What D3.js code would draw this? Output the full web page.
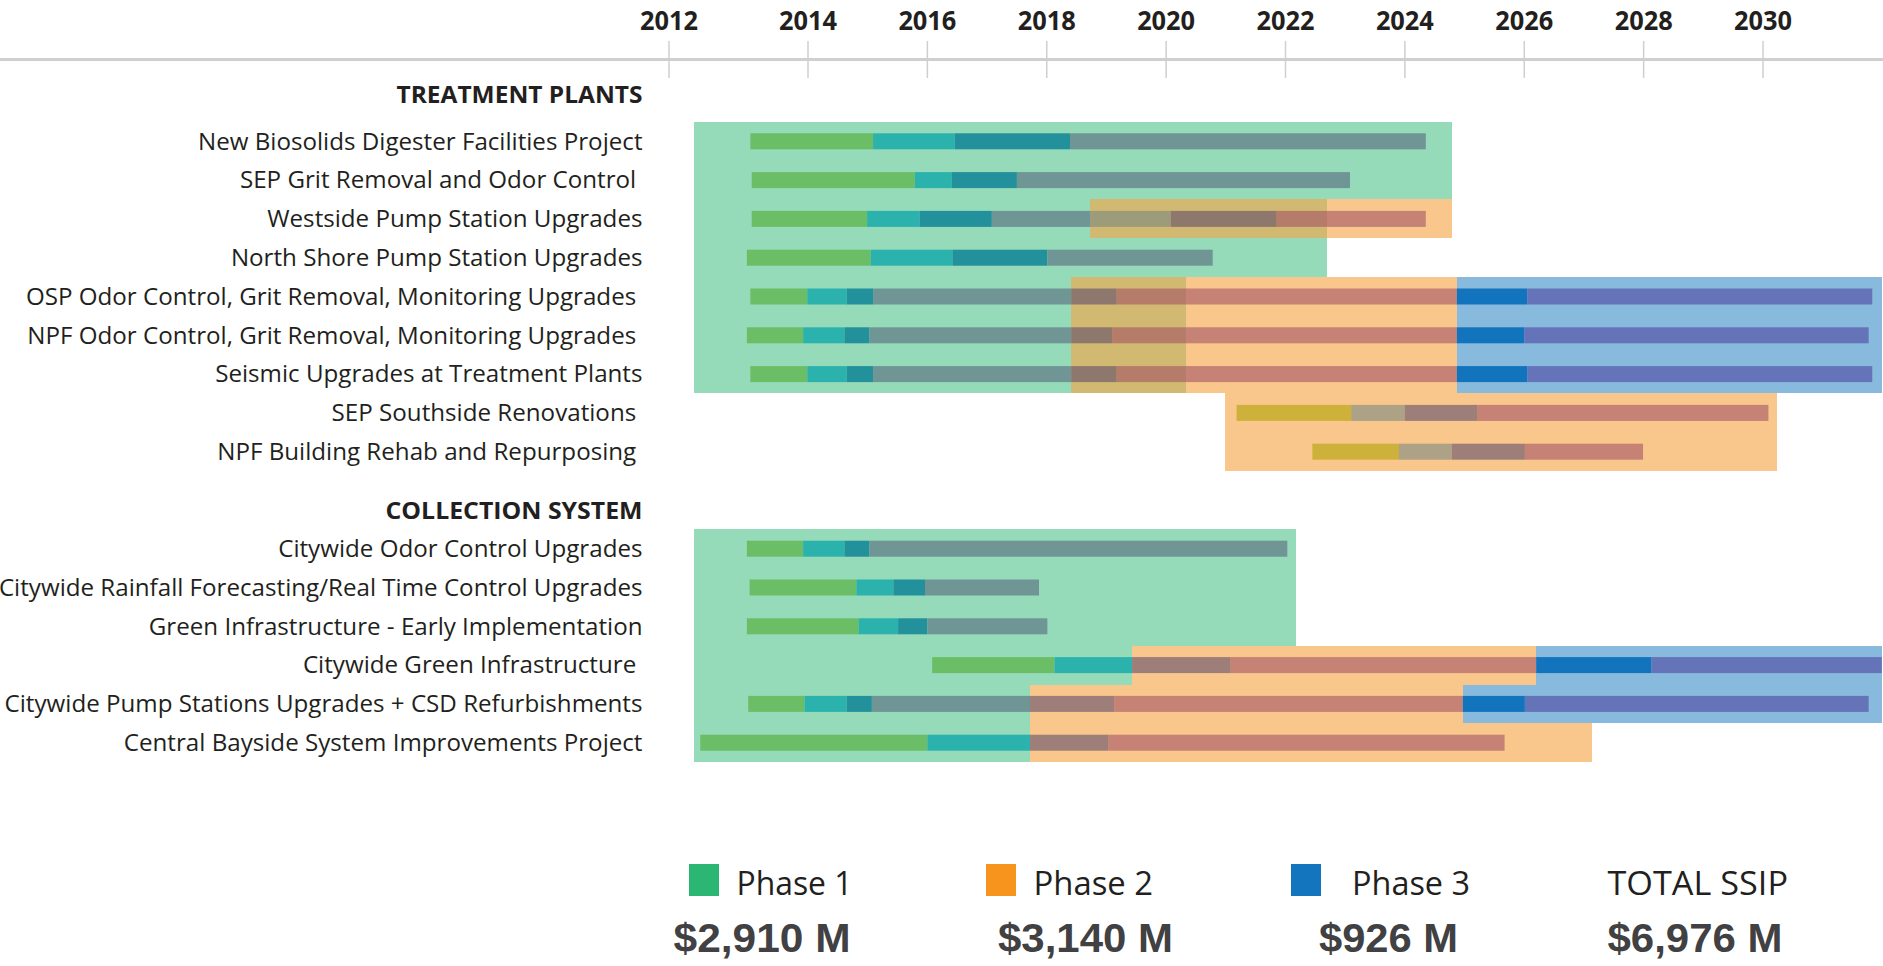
<!DOCTYPE html>
<html>
<head>
<meta charset="utf-8">
<script src="https://cdn.jsdelivr.net/npm/d3@7"></script>
<style>
  body { margin: 0; background: #fff; }
  svg { display: block; }
  text { white-space: pre; }
</style>
</head>
<body>
<svg></svg>
<script>
const size = {w: 1883, h: 966};
const svg = d3.select('svg')
    .attr('width', size.w)
    .attr('height', size.h);

// ---- data ----
const tickYears = [2012, 2014, 2016, 2018, 2020, 2022, 2024, 2026, 2028, 2030];

const treatmentProjects = [
    "New Biosolids Digester Facilities Project",
    "SEP Grit Removal and Odor Control ",
    "Westside Pump Station Upgrades",
    "North Shore Pump Station Upgrades",
    "OSP Odor Control, Grit Removal, Monitoring Upgrades ",
    "NPF Odor Control, Grit Removal, Monitoring Upgrades ",
    "Seismic Upgrades at Treatment Plants",
    "SEP Southside Renovations ",
    "NPF Building Rehab and Repurposing "
];
const collectionProjects = [
    "Citywide Odor Control Upgrades",
    "Citywide Rainfall Forecasting/Real Time Control Upgrades",
    "Green Infrastructure - Early Implementation",
    "Citywide Green Infrastructure ",
    "Citywide Pump Stations Upgrades + CSD Refurbishments",
    "Central Bayside System Improvements Project"
];

// [row, phase, first stage, stage breakpoints (year)]
const treatmentBars = [
    [0, 1, 0, [2013.17, 2015.09, 2016.46, 2018.39, 2024.35]],
    [1, 1, 0, [2013.19, 2015.79, 2016.41, 2017.50, 2023.08]],
    [2, 1, 0, [2013.19, 2014.99, 2015.87, 2017.08, 2018.73]],
    [2, 2, 1, [2018.73, 2020.08, 2021.85, 2024.35]],
    [3, 1, 0, [2013.12, 2015.05, 2016.42, 2018.01, 2020.78]],
    [4, 1, 0, [2013.17, 2013.99, 2014.65, 2015.09, 2018.41]],
    [4, 2, 2, [2018.41, 2019.17, 2024.87]],
    [4, 3, 0, [2024.87, 2026.05, 2031.83]],
    [5, 1, 0, [2013.12, 2013.93, 2014.61, 2015.03, 2018.41]],
    [5, 2, 2, [2018.41, 2019.10, 2024.87]],
    [5, 3, 0, [2024.87, 2026.00, 2031.77]],
    [6, 1, 0, [2013.17, 2013.99, 2014.65, 2015.09, 2018.41]],
    [6, 2, 2, [2018.41, 2019.17, 2024.87]],
    [6, 3, 0, [2024.87, 2026.05, 2031.83]],
    [7, 2, 0, [2021.18, 2023.10, 2024.00, 2025.21, 2030.09]],
    [8, 2, 0, [2022.45, 2023.90, 2024.79, 2026.01, 2027.99]]
];
const collectionBars = [
    [0, 1, 0, [2013.12, 2013.93, 2014.61, 2015.03, 2022.03]],
    [1, 1, 0, [2013.16, 2014.81, 2015.43, 2015.96, 2017.87]],
    [2, 1, 0, [2013.12, 2014.85, 2015.51, 2016.00, 2018.01]],
    [3, 1, 0, [2016.08, 2018.13, 2019.43]],
    [3, 2, 2, [2019.43, 2021.08, 2026.20]],
    [3, 3, 0, [2026.20, 2028.13, 2031.99]],
    [4, 1, 0, [2013.14, 2013.95, 2014.65, 2015.07, 2017.72]],
    [4, 2, 2, [2017.72, 2019.13, 2024.97]],
    [4, 3, 0, [2024.97, 2026.01, 2031.77]],
    [5, 1, 0, [2012.45, 2016.00, 2017.72]],
    [5, 2, 2, [2017.72, 2019.03, 2025.67]]
];

// phase windows: [first row, last row, phase, start, end]
const treatmentBoxes = [
    [0, 1, 1, 2012.36, 2024.79],
    [2, 3, 1, 2012.36, 2022.69],
    [4, 6, 1, 2012.36, 2020.34],
    [2, 2, 2, 2018.73, 2024.79],
    [4, 6, 2, 2018.41, 2024.87],
    [7, 8, 2, 2020.98, 2030.24],
    [4, 6, 3, 2024.87, 2032]
];
const collectionBoxes = [
    [0, 2, 1, 2012.36, 2022.17],
    [3, 3, 1, 2012.36, 2019.43],
    [4, 5, 1, 2012.36, 2017.72],
    [3, 3, 2, 2019.43, 2026.20],
    [4, 4, 2, 2017.72, 2024.97],
    [5, 5, 2, 2017.72, 2027.14],
    [3, 3, 3, 2026.20, 2032],
    [4, 4, 3, 2024.97, 2032]
];

const phaseNames = ["Phase 1", "Phase 2", "Phase 3"];
const phaseCosts = [2910, 3140, 926];   // $ M
const totalLabel = "TOTAL SSIP";
const totalCost = 6976;

// ---- styles ----
const phaseColor = {1: "#2BB673", 2: "#F7941E", 3: "#1275BE"};
const boxFill = {1: "#2BB673", 2: "#F5A546", 3: "#1275BE"};
const boxOpacity = {1: 0.5, 2: 0.62, 3: 0.5};
const stageColors = {
    1: ["#6BBE66", "#2BB2AD", "#23919B", "#6F9595"],
    2: ["#CDB13B", "#ADA185", "#9E7E78", "#C48275"],
    3: ["#1274BD", "#6574B8"]
};
const phase2Alpha = 0.6;
const labelFont = "'Open Sans', 'DejaVu Sans', sans-serif";

// phase 2 bars are see-through; find the base colour that shows the wanted colour on the orange window
function overWhite(c, a) {
    c = d3.rgb(c);
    return d3.rgb(a * c.r + (1 - a) * 255, a * c.g + (1 - a) * 255, a * c.b + (1 - a) * 255);
}
function baseFor(shown, bg, a) {
    let s = d3.rgb(shown), b = d3.rgb(bg);
    return d3.rgb((s.r - (1 - a) * b.r) / a, (s.g - (1 - a) * b.g) / a, (s.b - (1 - a) * b.b) / a).formatHex();
}
const orangeShown = overWhite(boxFill[2], boxOpacity[2]);
const stageFill = function (phase, stage) {
    let c = stageColors[phase][stage];
    return phase === 2 ? baseFor(c, orangeShown, phase2Alpha) : c;
};

// ---- scales ----
const x = d3.scaleLinear()
    .domain([2012, 2014, 2032])
    .range([669, 808, 1882.4]);

const y = d3.scaleLinear()
    .domain([0, 1])
    .range([141.3, 180.1]);

const groups = [
    {title: "TREATMENT PLANTS", titleSlot: -1.2, offset: 0, titleW: 246,
        projects: treatmentProjects, bars: treatmentBars, boxes: treatmentBoxes},
    {title: "COLLECTION SYSTEM", titleSlot: 9.5, offset: 10.5, titleW: 257,
        projects: collectionProjects, bars: collectionBars, boxes: collectionBoxes}
];

function squeeze(sel, target) {
    sel.each(function () {
        let w = typeof target === 'function' ? target(this.getComputedTextLength()) : target;
        d3.select(this).attr('textLength', w).attr('lengthAdjust', 'spacingAndGlyphs');
    });
}

// ---- axis ----
let axisG = svg.append('g').classed('axis', true);
axisG.append('line')
    .attr('x1', 0).attr('x2', size.w)
    .attr('y1', 59.5).attr('y2', 59.5)
    .attr('stroke', '#cfcfcf')
    .attr('stroke-width', 3);
axisG.selectAll('line.tick')
    .data(tickYears)
    .enter()
    .append('line')
    .classed('tick', true)
    .attr('x1', d => x(d)).attr('x2', d => x(d))
    .attr('y1', 41).attr('y2', 78)
    .attr('stroke', '#cfcfcf')
    .attr('stroke-width', 1.5);
axisG.selectAll('text')
    .data(tickYears)
    .enter()
    .append('text')
    .attr('x', d => x(d))
    .attr('y', 30)
    .attr('text-anchor', 'middle')
    .style('font-family', labelFont)
    .style('font-weight', 700)
    .style('font-size', '26px')
    .style('fill', '#231F20')
    .text(d => d)
    .call(squeeze, 58);

// ---- phase windows ----
let boxG = svg.append('g').classed('boxes', true);
let allBoxes = [];
groups.forEach(g => g.boxes.forEach(b => allBoxes.push({
    r0: b[0] + g.offset, r1: b[1] + g.offset, phase: b[2], start: b[3], end: b[4]
})));
allBoxes.sort((a, b) => a.phase - b.phase);

boxG.selectAll('rect')
    .data(allBoxes)
    .enter()
    .append('rect')
    .attr('x', d => Math.round(x(d.start)))
    .attr('y', d => Math.round(y(d.r0 - 0.5)))
    .attr('width', d => Math.round(x(d.end)) - Math.round(x(d.start)))
    .attr('height', d => Math.round(y(d.r1 + 0.5)) - Math.round(y(d.r0 - 0.5)))
    .attr('fill', d => boxFill[d.phase])
    .attr('fill-opacity', d => boxOpacity[d.phase])
    .attr('shape-rendering', 'crispEdges');

// ---- stage bars ----
let segs = [];
groups.forEach(g => g.bars.forEach(b => {
    let br = b[3];
    for (let i = 0; i < br.length - 1; i++) {
        segs.push({slot: b[0] + g.offset, phase: b[1], stage: b[2] + i, start: br[i], end: br[i + 1]});
    }
}));

let barG = svg.append('g').classed('bars', true);
barG.selectAll('rect')
    .data(segs)
    .enter()
    .append('rect')
    .attr('x', d => x(d.start))
    .attr('y', d => y(d.slot) - 8)
    .attr('width', d => x(d.end) - x(d.start))
    .attr('height', 16)
    .attr('fill', d => stageFill(d.phase, d.stage))
    .attr('fill-opacity', d => d.phase === 2 ? phase2Alpha : 1);

// ---- labels ----
let labelG = svg.append('g').classed('labels', true);
let rowK = null;
groups.forEach(g => {
    labelG.append('text')
        .attr('x', 642.5)
        .attr('y', y(g.titleSlot))
        .attr('dy', '0.36em')
        .attr('text-anchor', 'end')
        .style('font-family', labelFont)
        .style('font-weight', 700)
        .style('font-size', '24px')
        .style('fill', '#231F20')
        .text(g.title)
        .call(squeeze, g.titleW);

    let t = labelG.selectAll(null)
        .data(g.projects)
        .enter()
        .append('text')
        .attr('x', 642.5)
        .attr('y', (d, i) => y(i + g.offset))
        .attr('dy', '0.36em')
        .attr('text-anchor', 'end')
        .style('font-family', labelFont)
        .style('font-size', '23px')
        .style('fill', '#231F20')
        .text(d => d);
    if (rowK === null) rowK = 444.5 / t.node().getComputedTextLength();
    t.call(squeeze, w => w * rowK);
});

// ---- legend ----
let legG = svg.append('g').classed('legend', true);
const squareX = [689, 986, 1291];
const nameX = [736.5, 1033.6, 1352];
const nameW = [116, 119.5, 118];
const costX = [673.6, 998, 1319, 1607.5];
const costW = [177, 175, 139, 175];
const money = d => "$" + d3.format(",")(d) + " M";

legG.selectAll('rect')
    .data(phaseNames)
    .enter()
    .append('rect')
    .attr('x', (d, i) => squareX[i])
    .attr('y', 864)
    .attr('width', 30)
    .attr('height', 32)
    .attr('fill', (d, i) => phaseColor[i + 1]);

legG.selectAll('text.name')
    .data(phaseNames.concat([totalLabel]))
    .enter()
    .append('text')
    .classed('name', true)
    .attr('x', (d, i) => i < 3 ? nameX[i] : costX[3])
    .attr('y', 895)
    .style('font-family', labelFont)
    .style('font-size', '32px')
    .style('fill', '#231F20')
    .text(d => d)
    .each(function (d, i) {
        d3.select(this).attr('textLength', i < 3 ? nameW[i] : 180.5).attr('lengthAdjust', 'spacingAndGlyphs');
    });

legG.selectAll('text.cost')
    .data(phaseCosts.concat([totalCost]))
    .enter()
    .append('text')
    .classed('cost', true)
    .attr('x', (d, i) => costX[i])
    .attr('y', 951.5)
    .style('font-family', "'Liberation Sans', Arial, sans-serif")
    .style('font-weight', 700)
    .style('font-size', '41px')
    .style('fill', '#414042')
    .text(money)
    .each(function (d, i) {
        d3.select(this).attr('textLength', costW[i]).attr('lengthAdjust', 'spacingAndGlyphs');
    });
</script>
</body>
</html>
